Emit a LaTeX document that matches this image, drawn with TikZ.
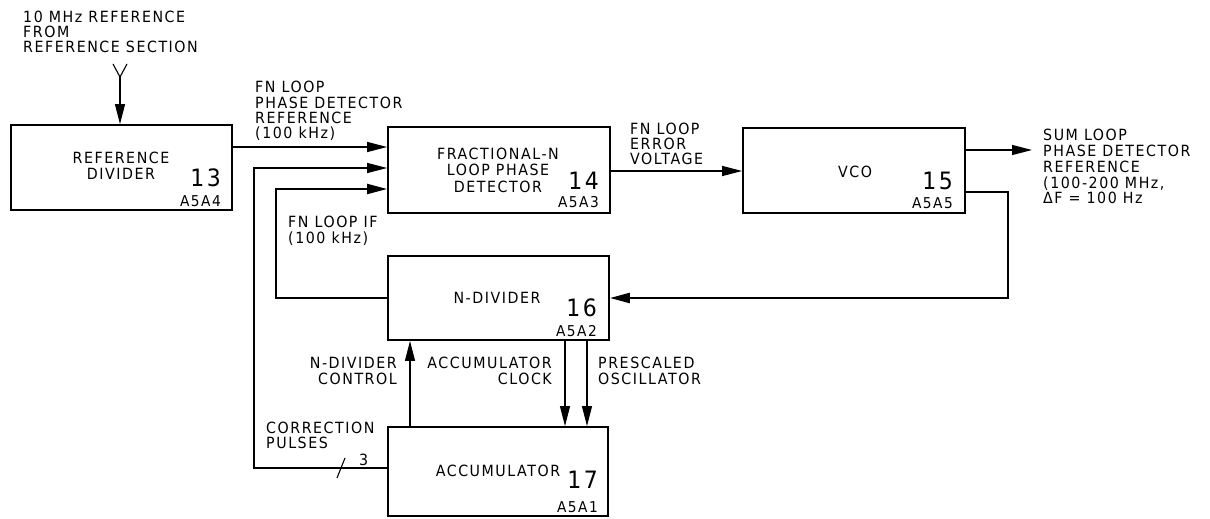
\documentclass[tikz,border=0pt]{standalone}
\usepackage{fontspec}
\setmainfont{DejaVu Sans}[FakeStretch=0.92,LetterSpace=10]
\usetikzlibrary{arrows.meta}
\begin{document}
\begin{tikzpicture}[x=1bp,y=-1bp,
  box/.style={draw,line width=1.8bp,inner sep=0pt},
  lbl/.style={inner sep=0pt,font=\fontsize{15.5}{15.5}\selectfont},
  blbl/.style={inner sep=0pt,font=\fontsize{15.5}{16.5}\selectfont,align=center},
  num/.style={inner sep=0pt,anchor=base east,font=\fontsize{24}{24}\selectfont},
  asm/.style={inner sep=0pt,anchor=base east,font=\fontsize{15}{15}\selectfont},
  sig/.style={line width=1.3bp,-{Triangle[length=20bp,width=10bp]}},
  thin/.style={line width=1.1bp},
  thick/.style={line width=2.2bp}]
\useasboundingbox (0,0) rectangle (1210,519);
% boxes
\node[box,minimum width=221bp,minimum height=85bp] (rd) at (121.5,167.5) {};
\node[box,minimum width=222bp,minimum height=86bp] (fn) at (499,170) {};
\node[box,minimum width=222bp,minimum height=85bp] (vco) at (854,170.5) {};
\node[box,minimum width=221bp,minimum height=84bp] (nd) at (498.5,298) {};
\node[box,minimum width=220bp,minimum height=89bp] (acc) at (498,471.5) {};
% box texts
\node[blbl] (rdt) at (121,166) {REFERENCE\\DIVIDER};
\node[num] (rdn) at (221,187) {13};
\node[asm] (rda) at (221,207) {A5A4};
\node[blbl] (fnt) at (498,170) {FRACTIONAL-N\\LOOP PHASE\\DETECTOR};
\node[num] (fnn) at (599,190) {14};
\node[asm] (fna) at (599,208) {A5A3};
\node[blbl] (vcot) at (855,172) {VCO};
\node[num] (vcon) at (953,190) {15};
\node[asm] (vcoa) at (953,209) {A5A5};
\node[blbl] (ndt) at (497,298) {N-DIVIDER};
\node[num] (ndn) at (597,317) {16};
\node[asm] (nda) at (597,337) {A5A2};
\node[blbl] (acct) at (498,471) {ACCUMULATOR};
\node[num] (accn) at (598,488) {17};
\node[asm] (acca) at (598,512) {A5A1};
% free labels (anchored at the baseline of their last line)
\node[lbl,anchor=base west,align=left] (t1) at (23,53) {10 MHz REFERENCE\\FROM\\REFERENCE SECTION};
\node[lbl,anchor=base west,align=left] (t2) at (255,139) {FN LOOP\\PHASE DETECTOR\\REFERENCE\\(100 kHz)};
\node[lbl,anchor=base west,align=left] (t3) at (630,165) {FN LOOP\\ERROR\\VOLTAGE};
\node[lbl,anchor=base west,align=left,font=\fontsize{15.5}{16}\selectfont] (t4) at (1043,204) {SUM LOOP\\PHASE DETECTOR\\REFERENCE\\(100-200 MHz,\\ΔF = 100 Hz};
\node[lbl,anchor=base west,align=left,font=\fontsize{15.5}{17}\selectfont] (t5) at (288,244) {FN LOOP IF\\(100 kHz)};
\node[lbl,anchor=base east,align=right,font=\fontsize{15.5}{17}\selectfont] (t6) at (397,385) {N-DIVIDER\\CONTROL};
\node[lbl,anchor=base east,align=right,font=\fontsize{15.5}{17}\selectfont] (t7) at (552,385) {ACCUMULATOR\\CLOCK};
\node[lbl,anchor=base west,align=left,font=\fontsize{15.5}{17}\selectfont] (t8) at (598,385) {PRESCALED\\OSCILLATOR};
\node[lbl,anchor=base west,align=left,font=\fontsize{15.5}{14.5}\selectfont] (t9) at (266,448) {CORRECTION\\PULSES};
\node[lbl,anchor=base west] (t10) at (359,465) {3};
% input
\coordinate (inp) at (120,77);
\draw[thin] (113,64) -- (inp) -- (127,64);
\draw[sig] (inp) -- (inp |- rd.north);
% connectors
\draw[sig] (rd.east |- 0,147) -- (fn.west |- 0,147);
\draw[sig,line width=1.1bp] (acc.west |- 0,468) -- (254,468) -- (254,168) -- (fn.west |- 0,168);
\draw[sig,line width=2bp] (nd.west) -- (276,298) -- (276,189) -- (fn.west |- 0,189);
\draw[sig] (fn.east |- 0,171) -- (vco.west |- 0,171);
\draw[sig] (vco.east |- 0,150) -- (1032,150);
\draw[sig,line width=2.4bp] (vco.east |- 0,192) -- (1008,192) -- (1008,298) -- (nd.east);
\draw[sig,line width=1.1bp] (acc.north -| 410,0) -- (nd.south -| 410,0);
\draw[sig,line width=1.1bp] (nd.south -| 565,0) -- (acc.north -| 565,0);
\draw[sig,line width=1.1bp] (nd.south -| 587,0) -- (acc.north -| 587,0);
\draw[thin] (337,478) -- (345,458);
\end{tikzpicture}
\end{document}
